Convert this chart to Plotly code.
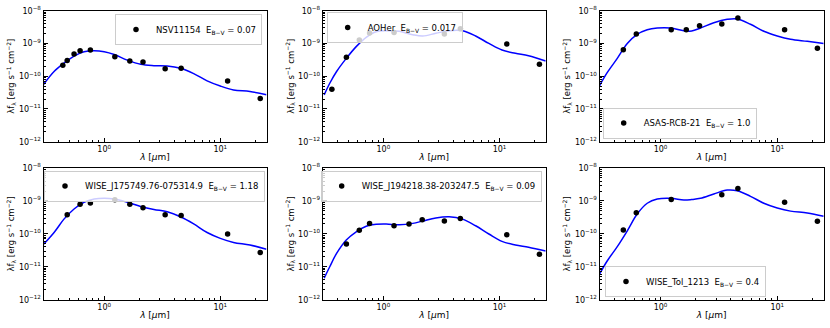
import plotly.graph_objects as go
from plotly.subplots import make_subplots

# nominal band wavelengths (micron)
U, B, g, V, r, i = 0.36, 0.44, 0.48, 0.55, 0.62, 0.76
J, H, K = 1.235, 1.662, 2.159
W1, W2, W3, W4 = 3.35, 4.6, 11.56, 22.08

names = ["NSV11154", "AOHer", "ASAS-RCB-21",
         "WISE_J175749.76-075314.9", "WISE_J194218.38-203247.5", "WISE_Tol_1213"]
ebv = ["0.07", "0.017", "1.0", "1.18", "0.09", "0.4"]

# photometry
wl_1 = [B, g, V, r, i, J, H, K, W1, W2, W3, W4]
f_1 = [2.15e-10, 3.0e-10, 4.8e-10, 6.0e-10, 6.3e-10, 3.9e-10, 2.9e-10, 2.7e-10, 1.7e-10, 1.74e-10, 7.1e-11, 2.1e-11]
wl_2 = [U, g, r, i, J, W1, W2, W3, W4]
f_2 = [4.0e-11, 3.8e-10, 1.27e-9, 2.1e-9, 2.15e-9, 1.95e-9, 2.8e-9, 9.6e-10, 2.3e-10]
wl_3 = [g, r, J, H, K, W1, W2, W3, W4]
f_3 = [6.4e-10, 1.95e-9, 2.6e-9, 2.6e-9, 3.5e-9, 3.9e-9, 6.0e-9, 2.6e-9, 7.1e-10]
wl_4 = [g, r, i, J, H, K, W1, W2, W3, W4]
f_4 = [3.8e-10, 7.9e-10, 8.6e-10, 1.09e-9, 7.9e-10, 6.2e-10, 3.8e-10, 3.6e-10, 9.9e-11, 2.7e-11]
wl_5 = [g, r, i, J, H, K, W1, W2, W3, W4]
f_5 = [4.9e-11, 1.28e-10, 2.08e-10, 1.77e-10, 1.99e-10, 2.7e-10, 2.45e-10, 2.95e-10, 9.4e-11, 2.4e-11]
wl_6 = [g, r, J, W1, W2, W3, W4]
f_6 = [1.31e-10, 4.4e-10, 1.11e-9, 1.55e-9, 2.4e-9, 9.1e-10, 2.4e-10]

# model SEDs
m_wl_a = [0.3, 0.37, 0.45, 0.55, 0.67, 0.82, 1.0, 1.22, 1.58, 2.06, 2.68, 3.49, 4.54, 5.9, 7.7, 10, 13, 18, 25]
m_f_1 = [5.6e-11, 1.4e-10, 2.5e-10, 4.1e-10, 5.6e-10, 6.0e-10, 5.6e-10, 4.6e-10, 3.1e-10, 2.3e-10, 2.1e-10,
         2.05e-10, 1.74e-10, 1.2e-10, 7.2e-11, 5.0e-11, 3.8e-11, 3.4e-11, 2.7e-11]
m_f_4 = [4.8e-11, 1.1e-10, 2.8e-10, 5.7e-10, 9.1e-10, 1.14e-9, 1.2e-9, 1.14e-9, 9.1e-10, 6.8e-10, 5.5e-10,
         4.7e-10, 3.3e-10, 2.0e-10, 1.1e-10, 7.3e-11, 5.5e-11, 4.6e-11, 3.4e-11]
m_wl_b = [0.309, 0.345, 0.394, 0.479, 0.583, 0.711, 0.866, 1.055, 1.37, 1.79, 2.18, 2.83, 3.68, 4.79, 6.23, 8.1, 10.5, 13.7, 17.8, 25]
m_f_2 = [2.7e-11, 6.1e-11, 1.37e-10, 3.5e-10, 8.0e-10, 1.54e-9, 2.29e-9, 2.45e-9, 2.34e-9, 1.85e-9, 1.69e-9,
         2.04e-9, 2.45e-9, 2.45e-9, 1.69e-9, 1.0e-9, 6.3e-10, 5.0e-10, 4.2e-10, 2.9e-10]
m_f_5 = [4.5e-12, 1.0e-11, 2.5e-11, 6.5e-11, 1.15e-10, 1.7e-10, 1.95e-10, 1.99e-10, 1.88e-10, 2.08e-10, 2.45e-10,
         3.05e-10, 3.3e-10, 2.8e-10, 1.76e-10, 9.9e-11, 5.9e-11, 4.6e-11, 3.9e-11, 3.0e-11]
m_wl_c = [0.3, 0.349, 0.426, 0.519, 0.631, 0.769, 0.937, 1.22, 1.585, 1.85, 2.2, 2.86, 3.73, 4.54, 5.9, 7.67, 10, 13, 18.1, 25]
m_f_3 = [5.1e-11, 1.28e-10, 3.5e-10, 1.0e-9, 1.9e-9, 2.63e-9, 2.96e-9, 2.96e-9, 2.45e-9, 2.4e-9, 2.96e-9,
         4.3e-9, 5.45e-9, 5.6e-9, 3.85e-9, 2.35e-9, 1.69e-9, 1.34e-9, 1.16e-9, 1.0e-9]
m_f_6 = [6.0e-12, 1.5e-11, 4.1e-11, 1.24e-10, 4.0e-10, 8.5e-10, 1.14e-9, 1.2e-9, 1.06e-9, 1.1e-9, 1.2e-9,
         1.62e-9, 2.14e-9, 2.04e-9, 1.38e-9, 8.5e-10, 6.1e-10, 4.9e-10, 4.3e-10, 3.4e-10]

points = [(wl_1, f_1), (wl_2, f_2), (wl_3, f_3), (wl_4, f_4), (wl_5, f_5), (wl_6, f_6)]
models = [(m_wl_a, m_f_1), (m_wl_b, m_f_2), (m_wl_c, m_f_3), (m_wl_a, m_f_4), (m_wl_b, m_f_5), (m_wl_c, m_f_6)]

FONT = "DejaVu Sans"
col_dom = [[43.5 / 830, 266.5 / 830], [322.7 / 830, 545.7 / 830], [599.5 / 830, 823.7 / 830]]
row_dom = [[1 - 141.7 / 328, 1 - 10.7 / 328], [1 - 299.7 / 328, 1 - 168 / 328]]
# legend anchors (x, y, xanchor, yanchor)
leg_pos = [(262 / 830, 1 - 14 / 328, "right", "top"),
           (326.7 / 830, 1 - 12 / 328, "left", "top"),
           (602.7 / 830, 1 - 138.5 / 328, "left", "bottom"),
           (265 / 830, 1 - 170.5 / 328, "right", "top"),
           (541.7 / 830, 1 - 170.5 / 328, "right", "top"),
           (605 / 830, 1 - 297 / 328, "left", "bottom")]

fig = make_subplots(rows=2, cols=3)

x_minor = [0.3, 0.4, 0.5, 0.6, 0.7, 0.8, 0.9, 2, 3, 4, 5, 6, 7, 8, 9, 20]
y_minor = [m * 10.0 ** e for e in range(-12, -8) for m in range(2, 10)]

for k in range(6):
    row, col = k // 3 + 1, k % 3 + 1
    lg = "legend" if k == 0 else f"legend{k + 1}"
    mw, mf = models[k]
    fig.add_trace(go.Scatter(x=mw, y=mf, mode="lines", line=dict(color="#0000ff", width=1.5, shape="spline"),
                             showlegend=False, hoverinfo="skip"), row=row, col=col)
    pw, pf = points[k]
    fig.add_trace(go.Scatter(x=pw, y=pf, mode="markers", marker=dict(color="black", size=5.5),
                             name=f"{names[k]}  E<sub>B\u2212V</sub> = {ebv[k]}", legend=lg),
                  row=row, col=col)
    lx, ly, xa, ya = leg_pos[k]
    fig.update_layout({lg: dict(x=lx, y=ly, xanchor=xa, yanchor=ya, bgcolor="rgba(255,255,255,0.8)",
                                bordercolor="#cccccc", borderwidth=1, font=dict(family=FONT, size=8.5, color="black"),
                                itemwidth=30, tracegroupgap=0)})
    fig.update_xaxes(type="log", range=[-0.5229, 1.398], domain=col_dom[col - 1],
                     tickvals=[1, 10], ticktext=["10<sup>0</sup>", "10<sup>1</sup>"],
                     ticks="inside", ticklen=4, tickcolor="black", showgrid=False, zeroline=False,
                     minor=dict(tickvals=x_minor, ticks="inside", ticklen=2, tickcolor="black", showgrid=False),
                     showline=True, linecolor="black", linewidth=1, mirror=True,
                     title=dict(text="<i>λ</i> [<i>μ</i>m]", font=dict(family=FONT, size=9, color="black"), standoff=0),
                     tickfont=dict(family=FONT, size=8, color="black"), automargin=False,
                     row=row, col=col)
    fig.update_yaxes(type="log", range=[-12, -8], domain=row_dom[row - 1],
                     tickvals=[1e-12, 1e-11, 1e-10, 1e-9, 1e-8],
                     ticktext=["10<sup>\u221212</sup>", "10<sup>\u221211</sup>", "10<sup>\u221210</sup>",
                               "10<sup>\u22129</sup>", "10<sup>\u22128</sup>"],
                     ticks="inside", ticklen=4, tickcolor="black", showgrid=False, zeroline=False,
                     minor=dict(tickvals=y_minor, ticks="inside", ticklen=2, tickcolor="black", showgrid=False),
                     showline=True, linecolor="black", linewidth=1, mirror=True,
                     title=dict(text="λf<sub>λ</sub> [erg s<sup>\u22121</sup> cm<sup>\u22122</sup>]",
                                font=dict(family=FONT, size=8.5, color="black"), standoff=2),
                     tickfont=dict(family=FONT, size=8, color="black"), automargin=False,
                     row=row, col=col)

fig.update_layout(width=830, height=328, margin=dict(l=0, r=0, t=0, b=0),
                  paper_bgcolor="white", plot_bgcolor="white",
                  font=dict(family=FONT, size=9, color="black"))

fig.write_html("out.html", config={"displayModeBar": False},
               post_script="document.body.style.margin='0';document.body.style.overflow='hidden';")
